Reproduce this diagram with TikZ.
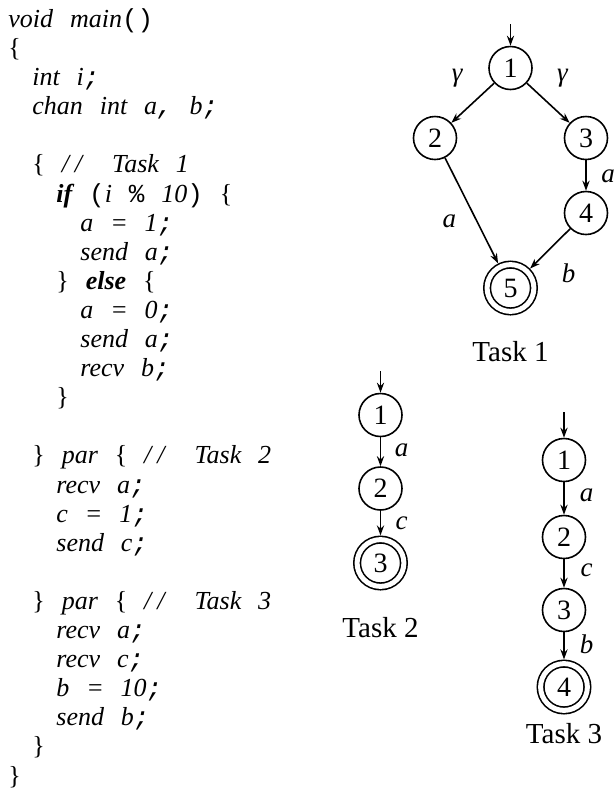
\documentclass[tikz,border=0pt]{standalone}
\usepackage{fontspec}
\setmainfont{Liberation Serif}
\newfontfamily\codefont[WordSpace=2.6]{Liberation Serif}
\newfontfamily\punctfont{Liberation Mono}
\usetikzlibrary{matrix,arrows.meta}

% punctuation and layout helpers for the listing
\newcommand\csemi{{\punctfont;}}
\newcommand\ccomma{{\punctfont,}}
\newcommand\clpar{{\punctfont\upshape(}}
\newcommand\crpar{{\punctfont\upshape)}}
\newcommand\cpct{{\punctfont\upshape\%}}
\newcommand\clb{{\upshape\{}}
\newcommand\crb{{\upshape\}}}
\newcommand\cmt[1]{/\kern3pt/\hspace{15pt}#1}
\newcommand\indt{\hspace*{12pt}}

\begin{document}
\begin{tikzpicture}[x=0.5pt, y=-0.5pt, >={Stealth[length=5pt,width=3.6pt]},
  stn/.style={circle, draw, line width=0.8pt, minimum size=21.5pt, inner sep=0pt,
    font=\fontsize{14}{16}\selectfont},
  fin/.style={stn, double, double distance=2.5pt, minimum size=23.4pt, outer sep=2.1pt},
  lbl/.style={font=\itshape\fontsize{13.5}{16}\selectfont, inner sep=0pt},
  caption/.style={font=\fontsize{14.5}{17}\selectfont, inner sep=0pt}]
  \useasboundingbox (0,0) rectangle (616,794);

  % the program
  \matrix (code) [matrix of nodes, nodes in empty cells, anchor=north west, inner sep=0pt,
    nodes={anchor=base west, inner sep=0pt, text height=10pt, text depth=4.55pt,
      font=\codefont\itshape\fontsize{13}{15}\selectfont}] at (8,7)
  {
void main\clpar\crpar \\
\clb \\
\indt int i\csemi \\
\indt chan int a\ccomma{} b\csemi \\
\\
\indt\clb{} \cmt{Task 1} \\
\indt\indt\textbf{if} \clpar i \cpct{} 10\crpar{} \clb \\
\indt\indt\indt a = 1\csemi \\
\indt\indt\indt send a\csemi \\
\indt\indt\crb{} \textbf{else} \clb \\
\indt\indt\indt a = 0\csemi \\
\indt\indt\indt send a\csemi \\
\indt\indt\indt recv b\csemi \\
\indt\indt\crb \\
\\
\indt\crb{} par \clb{} \cmt{Task 2} \\
\indt\indt recv a\csemi \\
\indt\indt c = 1\csemi \\
\indt\indt send c\csemi \\
\\
\indt\crb{} par \clb{} \cmt{Task 3} \\
\indt\indt recv a\csemi \\
\indt\indt recv c\csemi \\
\indt\indt b = 10\csemi \\
\indt\indt send b\csemi \\
\indt\crb \\
\crb \\
};

  % Task 1
  \node[stn] (p1) at (510.5,68) {1};
  \node[stn] (p2) at (435,138) {2};
  \node[stn] (p3) at (586,138) {3};
  \node[stn] (p4) at (586,213) {4};
  \node[fin] (p5) at (510.5,288) {5};
  \node[caption] (cap1) at (510.5,352) {Task 1};
  \coordinate (i1) at (510.5,24);
  \path[->, line width=0.8pt]
  (i1) edge (p1)
  (p1) edge node[lbl, shift={(-15.6,-25)}] {γ} (p2)
       edge node[lbl, shift={(14.3,-25)}] {γ} (p3)
  (p3) edge node[lbl, shift={(22,1)}] {a} (p4)
  (p2) edge node[lbl, shift={(-22.3,10.7)}] {a} (p5)
  (p4) edge node[lbl, shift={(18.5,24.3)}] {b} (p5)
  ;

  % Task 2
  \node[stn] (q1) at (380.5,415) {1};
  \node[stn] (q2) at (380.5,488.5) {2};
  \node[fin] (q3) at (380.5,563) {3};
  \node[caption] (cap2) at (380.5,628) {Task 2};
  \coordinate (i2) at (380.5,371);
  \path[->, line width=0.8pt]
  (i2) edge (q1)
  (q1) edge node[lbl, shift={(21,-1.6)}] {a} (q2)
  (q2) edge node[lbl, shift={(21,0)}] {c} (q3)
  ;

  % Task 3
  \node[stn] (r1) at (564,460) {1};
  \node[stn] (r2) at (564,537) {2};
  \node[stn] (r3) at (564,610) {3};
  \node[fin] (r4) at (564,687) {4};
  \node[caption] (cap3) at (564,734) {Task 3};
  \coordinate (i3) at (564,412);
  \path[->, line width=0.8pt]
  (i3) edge (r1)
  (r1) edge node[lbl, shift={(22.7,-3.3)}] {a} (r2)
  (r2) edge node[lbl, shift={(22.7,-3.3)}] {c} (r3)
  (r3) edge node[lbl, shift={(22.7,-2)}] {b} (r4)
  ;
\end{tikzpicture}
\end{document}
